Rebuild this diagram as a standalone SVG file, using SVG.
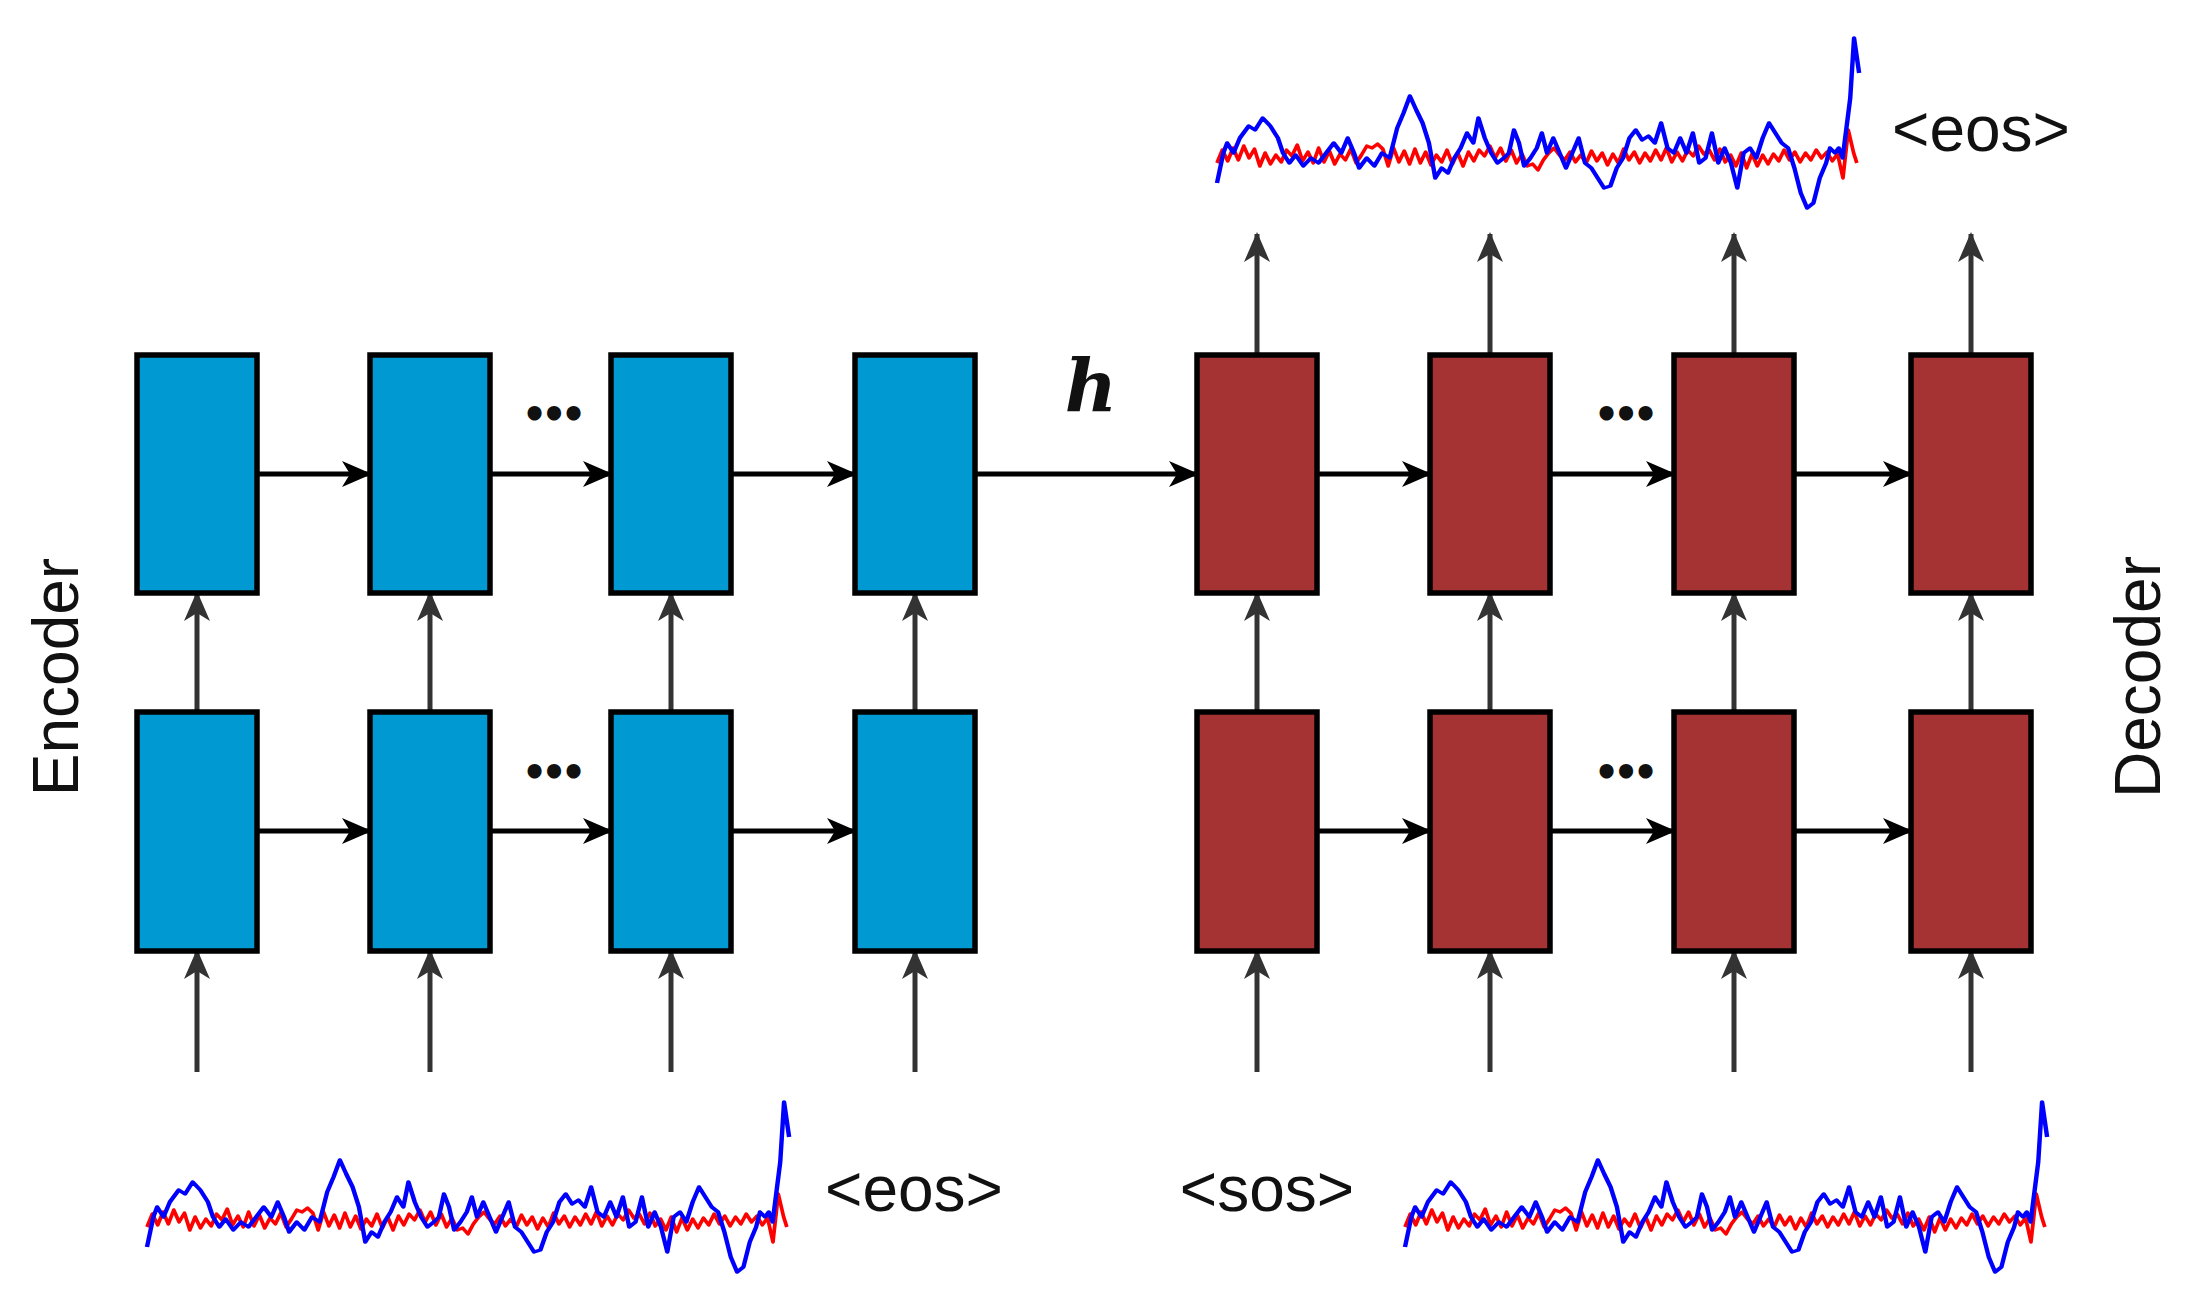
<svg xmlns="http://www.w3.org/2000/svg" xmlns:xlink="http://www.w3.org/1999/xlink" width="2187" height="1314" viewBox="0 0 2187 1314">
<style>
.enc{fill:#0099d2;stroke:#000;stroke-width:5.5}
.dec{fill:#a63334;stroke:#000;stroke-width:5.5}
.h{stroke:#000;stroke-width:5;fill:none;marker-end:url(#ab)}
.v{stroke:#333;stroke-width:5;fill:none;marker-end:url(#ag)}
.lbl{font-family:"Liberation Sans",Arial,sans-serif;font-size:64px;fill:#111}
.dots{font-family:"DejaVu Sans",sans-serif;font-weight:bold;font-size:40px;fill:#111;letter-spacing:-6px}
.bl{fill:none;stroke:#0000ff;stroke-width:3.5;stroke-linejoin:round}
.rd{fill:none;stroke:#ff0000;stroke-width:3.5;stroke-linejoin:round}
</style>
<defs>
<marker id="ab" viewBox="0 0 30 30" refX="28" refY="15" markerWidth="30" markerHeight="30" markerUnits="userSpaceOnUse" orient="auto"><path d="M0,2 L30,15 L0,28 L8,15 Z" fill="#000"/></marker>
<marker id="ag" viewBox="0 0 30 30" refX="28" refY="15" markerWidth="30" markerHeight="30" markerUnits="userSpaceOnUse" orient="auto"><path d="M0,2 L30,15 L0,28 L8,15 Z" fill="#333"/></marker>
<g id="wave" transform="scale(1.07,1)">
<polyline class="rd" points="0,5 5,-8 10,3 15,-10 20,2 25,-12 30,0 35,-9 40,8 45,-5 50,6 55,-3 60,4 65,-8 70,-2 75,-13 80,3 85,-6 90,5 95,-10 100,4 105,-7 110,6 115,-4 120,2 125,-9 130,5 135,-3 140,-12 145,-10 150,-14 155,-9 160,8 165,-10 170,4 175,-7 180,6 185,-9 190,5 195,-6 200,7 205,-3 210,4 215,-8 220,6 225,-5 230,8 235,-6 240,3 245,-8 250,-2 255,-12 260,0 265,-10 270,3 275,-8 280,5 285,-4 290,8 295,6 300,12 305,2 310,-5 315,-10 320,-3 325,2 330,-6 335,4 340,-3 345,5 350,-7 355,3 360,-5 365,7 370,-4 375,5 380,-9 385,2 390,-6 395,5 400,-5 405,3 410,-8 415,2 420,-10 425,4 430,-6 435,3 440,-8 445,-2 450,-12 455,-4 460,-8 465,2 470,-9 475,4 480,-3 485,8 490,-5 495,10 500,-4 505,8 510,-3 515,6 520,-4 525,3 530,-8 535,2 540,-6 545,4 550,-5 555,2 560,-8 565,0 570,-6 575,3 580,-4 585,20 590,-28 595,-5 598,5"/>
<polyline class="bl" transform="scale(1.186,1)" points="0,25 5,-5 8,-15 13,-5 18,-20 25,-32 30,-28 36,-40 42,-32 48,-20 52,-5 57,5 62,-3 68,8 74,0 80,5 86,-5 92,-15 98,-5 103,-20 108,-5 112,10 118,0 124,8 130,-5 136,0 142,-30 147,-45 152,-62 157,-48 162,-35 167,-15 172,20 177,10 182,15 187,0 192,-10 197,-25 202,-15 206,-40 211,-20 216,-5 221,5 226,0 230,-5 234,-28 238,-15 242,8 247,0 252,-10 256,-25 260,-5 265,-20 270,-5 275,10 280,-5 285,-20 290,5 295,10 300,20 305,30 310,28 315,10 320,0 325,-20 330,-28 335,-18 340,-22 345,-15 350,-35 355,-10 360,-5 365,-20 370,-5 375,-25 380,5 385,0 390,-25 395,5 400,-10 405,5 410,30 415,-5 420,-10 425,0 430,-20 435,-35 440,-25 445,-15 450,-10 455,10 460,35 465,50 470,45 475,20 480,5 483,-10 487,-5 490,-10 493,0 496,-30 499,-60 502,-120 506,-85"/>
</g>
</defs>
<g id="connectors">
<path class="h" d="M257,474 H370"/><path class="h" d="M489,474 H611"/><path class="h" d="M730,474 H855"/>
<path class="h" d="M974,474 H1197"/>
<path class="h" d="M1316,474 H1430"/><path class="h" d="M1549,474 H1674"/><path class="h" d="M1793,474 H1911"/>
<path class="h" d="M257,831 H370"/><path class="h" d="M489,831 H611"/><path class="h" d="M730,831 H855"/>
<path class="h" d="M1316,831 H1430"/><path class="h" d="M1549,831 H1674"/><path class="h" d="M1793,831 H1911"/>
<path class="v" d="M197,712 V593"/><path class="v" d="M430,712 V593"/><path class="v" d="M671,712 V593"/><path class="v" d="M915,712 V593"/>
<path class="v" d="M1257,712 V593"/><path class="v" d="M1490,712 V593"/><path class="v" d="M1734,712 V593"/><path class="v" d="M1971,712 V593"/>
<path class="v" d="M197,1072 V951"/><path class="v" d="M430,1072 V951"/><path class="v" d="M671,1072 V951"/><path class="v" d="M915,1072 V951"/>
<path class="v" d="M1257,1072 V951"/><path class="v" d="M1490,1072 V951"/><path class="v" d="M1734,1072 V951"/><path class="v" d="M1971,1072 V951"/>
<path class="v" d="M1257,355 V234"/><path class="v" d="M1490,355 V234"/><path class="v" d="M1734,355 V234"/><path class="v" d="M1971,355 V234"/>
</g>
<g id="enc1"><rect class="enc" x="137" y="355" width="120" height="238"/></g>
<g id="enc2"><rect class="enc" x="370" y="355" width="120" height="238"/></g>
<g id="enc3"><rect class="enc" x="611" y="355" width="120" height="238"/></g>
<g id="enc4"><rect class="enc" x="855" y="355" width="120" height="238"/></g>
<g id="enc5"><rect class="enc" x="137" y="712" width="120" height="239"/></g>
<g id="enc6"><rect class="enc" x="370" y="712" width="120" height="239"/></g>
<g id="enc7"><rect class="enc" x="611" y="712" width="120" height="239"/></g>
<g id="enc8"><rect class="enc" x="855" y="712" width="120" height="239"/></g>
<g id="dec1"><rect class="dec" x="1197" y="355" width="120" height="238"/></g>
<g id="dec2"><rect class="dec" x="1430" y="355" width="120" height="238"/></g>
<g id="dec3"><rect class="dec" x="1674" y="355" width="120" height="238"/></g>
<g id="dec4"><rect class="dec" x="1911" y="355" width="120" height="238"/></g>
<g id="dec5"><rect class="dec" x="1197" y="712" width="120" height="239"/></g>
<g id="dec6"><rect class="dec" x="1430" y="712" width="120" height="239"/></g>
<g id="dec7"><rect class="dec" x="1674" y="712" width="120" height="239"/></g>
<g id="dec8"><rect class="dec" x="1911" y="712" width="120" height="239"/></g>
<g id="labels">
<text class="dots" x="551" y="428" text-anchor="middle">•••</text>
<text class="dots" x="551" y="786" text-anchor="middle">•••</text>
<text class="dots" x="1623" y="428" text-anchor="middle">•••</text>
<text class="dots" x="1623" y="786" text-anchor="middle">•••</text>
<text x="1091" y="412" text-anchor="middle" font-family="'DejaVu Serif',serif" font-style="italic" font-weight="bold" font-size="72" fill="#111">h</text>
<text class="lbl" transform="translate(78,677) rotate(-90)" text-anchor="middle">Encoder</text>
<text class="lbl" transform="translate(2160,677) rotate(-90)" text-anchor="middle">Decoder</text>
<text class="lbl" x="1981" y="151" text-anchor="middle">&lt;eos&gt;</text>
<text class="lbl" x="914" y="1211" text-anchor="middle">&lt;eos&gt;</text>
<text class="lbl" x="1267" y="1211" text-anchor="middle">&lt;sos&gt;</text>
</g>
<g id="waves">
<use xlink:href="#wave" transform="translate(1217,158)"/>
<use xlink:href="#wave" transform="translate(147,1222)"/>
<use xlink:href="#wave" transform="translate(1405,1222)"/>
</g>
</svg>
